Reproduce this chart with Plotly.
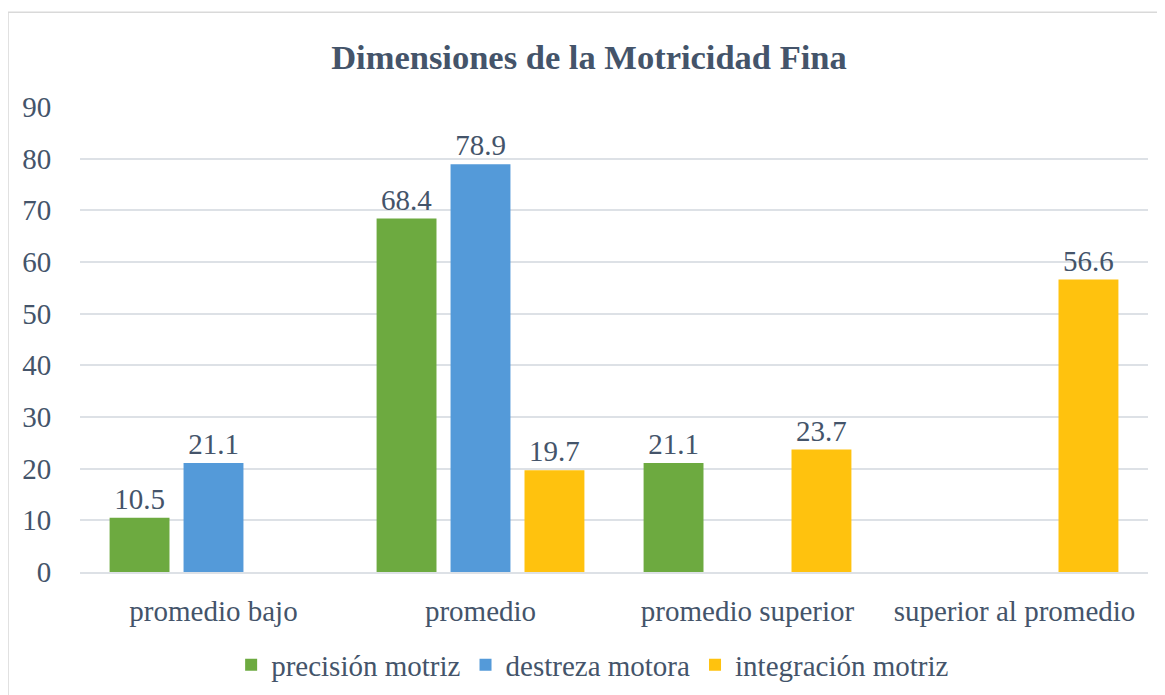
import plotly.graph_objects as go

categories = ["promedio bajo", "promedio", "promedio superior", "superior al promedio"]
precision_motriz = [10.5, 68.4, 21.1, None]
destreza_motora = [21.1, 78.9, None, None]
integracion_motriz = [None, 19.7, 23.7, 56.6]
y_ticks = [0, 10, 20, 30, 40, 50, 60, 70, 80, 90]

text_color = "#44546A"
serif = "Liberation Serif"

series = [
    ("precisión motriz", precision_motriz, "#6DAA40"),
    ("destreza motora", destreza_motora, "#549AD9"),
    ("integración motriz", integracion_motriz, "#FFC20E"),
]

fig = go.Figure()
for name, vals, color in series:
    fig.add_trace(go.Bar(
        x=categories, y=vals, name=name,
        # transparent outline just pushes the outside labels up a little
        marker=dict(color=color, line=dict(width=8, color="rgba(0,0,0,0)")),
        text=[f"{v:.1f}" if v is not None else "" for v in vals],
        textposition="outside",
        textfont=dict(family=serif, size=29, color=text_color),
        cliponaxis=False,
    ))

# page body has an 8px margin, so figure coords are shifted by 8
fig.update_layout(
    width=1165, height=695,
    margin=dict(l=72, r=25, t=99, b=131),
    paper_bgcolor="white", plot_bgcolor="white",
    barmode="group", bargap=0.169, bargroupgap=0.19,
    title=dict(text="<b>Dimensiones de la Motricidad Fina</b>",
               x=0.4987, xanchor="center", y=0.9295, yanchor="middle",
               font=dict(family=serif, size=34.5, color=text_color)),
    font=dict(family=serif, size=29, color=text_color),
    showlegend=True,
    legend=dict(orientation="h", x=0.48, xanchor="center", y=-0.2, yanchor="middle",
                font=dict(family=serif, size=29, color=text_color),
                itemwidth=30, traceorder="normal"),
)
fig.update_yaxes(range=[0, 90], tickvals=y_ticks, showgrid=True, gridcolor="#DDE1E6",
                 gridwidth=2, zeroline=False, showline=False, automargin=False,
                 tickfont=dict(family=serif, size=29, color=text_color),
                 ticks="outside", ticklen=22, tickcolor="rgba(0,0,0,0)")
fig.update_xaxes(showline=True, linecolor="#DDE1E6", linewidth=2, automargin=False,
                 tickfont=dict(family=serif, size=29, color=text_color),
                 ticks="outside", ticklen=12, tickcolor="rgba(0,0,0,0)")

# chart border
fig.add_shape(type="rect", xref="paper", yref="paper",
              x0=-0.0674, x1=1.05, y0=-0.4, y1=1.204,
              line=dict(color="#D9D9D9", width=1.5), layer="below")

fig.write_html("out.html")
